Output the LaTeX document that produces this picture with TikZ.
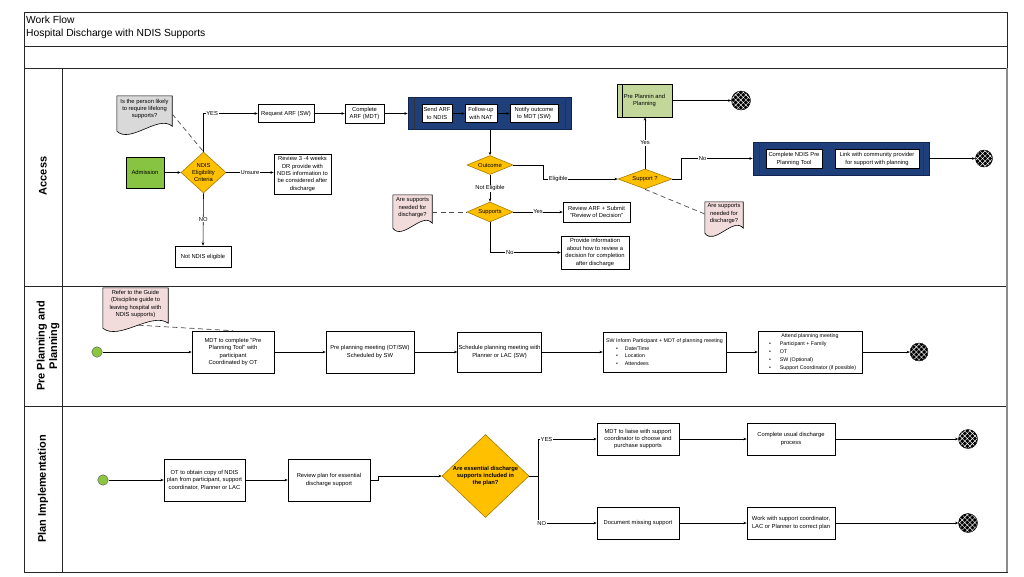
\documentclass[tikz,border=0pt]{standalone}
\usepackage{fontspec}
\setmainfont{Liberation Sans}
\usetikzlibrary{shapes.geometric,arrows.meta,calc,backgrounds,patterns.meta}
\definecolor{admgreen}{HTML}{86C441}
\definecolor{startgreen}{HTML}{8CC63F}
\definecolor{diafill}{HTML}{FFC000}
\definecolor{diadraw}{HTML}{A67C00}
\definecolor{contblue}{HTML}{1F3F7A}
\definecolor{contdraw}{HTML}{0F2550}
\definecolor{ppgreen}{HTML}{C4D79B}
\definecolor{docpink}{HTML}{F2DCDB}
\definecolor{docgray}{HTML}{D9D9D9}
\newcommand\nf{\fontsize{5.8}{7.4}\selectfont}
\newcommand\smnf{\fontsize{5.3}{7.5}\selectfont}
\newcommand\wavedoc[3]{%
  \path[draw=black, line width=0.6pt, fill=#2]
   (#1.north west) -- (#1.north east) -- ($(#1.south east)+(0,#3-3)$)
   .. controls ($(#1.south)!0.5!(#1.south east)+(0,#3-15)$) and ($(#1.south)!0.5!(#1.south west)+(0,#3+15)$) ..
   ($(#1.south west)+(0,#3+2)$) -- cycle;}
\begin{document}
\begin{tikzpicture}[x=1pt,y=-1pt,
  bx/.style 2 args={draw=black, line width=0.6pt, fill=white, rectangle, inner sep=1pt, align=center, font=\nf, minimum width=#1, minimum height=#2},
  dia/.style 2 args={diamond, draw=diadraw, fill=diafill, line width=0.6pt, inner sep=0pt, minimum width=#1, minimum height=#2},
  dtxt/.style={font=\nf, align=center, inner sep=0pt},
  doc/.style 2 args={rectangle, inner sep=0pt, align=center, font=\nf, minimum width=#1, minimum height=#2},
  cont/.style 2 args={draw=contdraw, fill=contblue, line width=0.8pt, inner sep=0pt, minimum width=#1, minimum height=#2},
  contline/.style={draw=black!80, line width=0.6pt},
  endc/.style={circle, draw=black, line width=0.4pt, inner sep=0pt, minimum size=#1, preaction={fill=black}, pattern={Hatch[angle=45,distance=3.6pt,line width=0.45pt]}, pattern color=white},
  startc/.style={circle, draw=black!60, fill=startgreen, line width=0.5pt, inner sep=0pt, minimum size=10.5},
  arr/.style={draw=black, line width=0.6pt, -{Stealth[length=3.2pt,width=2.6pt]}},
  dsh/.style={draw=black!70, line width=0.7pt, dash pattern=on 5pt off 3.5pt},
  lbl/.style={font=\nf, fill=white, inner sep=0.6pt},
  lane/.style={font=\fontsize{11}{12.5}\selectfont\bfseries, rotate=90, align=center},
  frame/.style={draw=black!85, line width=0.7pt}
]
\begin{scope}[on background layer]
  \fill[white] (0,0) rectangle (1024,576);
\end{scope}
\useasboundingbox (0,0) rectangle (1024,576);

% frame and lanes
\draw[frame] (24,12) rectangle (1007,572);
\draw[frame] (24,46) -- (1007,46);
\draw[frame] (24,68) -- (1007,68);
\draw[frame] (24,286) -- (1007,286);
\draw[frame] (24,406) -- (1007,406);
\draw[frame] (62,68) -- (62,572);
\draw[draw=black!45, line width=1.4pt] (1007,68) -- (1007,572);

\node[anchor=west, inner sep=0pt, font=\fontsize{10.3}{12}\selectfont] (t1) at (26,20) {Work Flow};
\node[anchor=west, inner sep=0pt, font=\fontsize{10.3}{12}\selectfont] (t2) at (26,33.5) {Hospital Discharge with NDIS Supports};

\node[lane] (L1) at (43,176) {Access};
\node[lane] (L2) at (48,346) {Pre Planning and\\Planning};
\node[lane] (L3) at (43,489) {Plan Implementation};

% ---------- Access lane ----------
\node[doc={55}{26}] (qdoc) at (144.5,109) {Is the person likely\\to require lifelong\\supports?};
\node[bx={38}{31}, fill=admgreen] (adm) at (145,172.5) {Admission};
\node[dia={45}{41}] (elig) at (203.5,172.5) {};
\node[dtxt] (eligT) at (elig) {NDIS\\Eligibility\\Criteria};
\node[bx={56}{18}] (reqarf) at (286,113.5) {Request ARF (SW)};
\node[bx={57}{40}] (review) at (302.5,174) {Review 3 -4 weeks\\DR provide with\\NDIS information to\\be considered after\\discharge};
\node[bx={56}{21}] (notel) at (203,256.5) {Not NDIS eligible};
\node[bx={39}{19}] (cmparf) at (364.5,113.5) {Complete\\ARF (MDT)};
\node[cont={163}{32}] (c1) at (489.5,113.5) {};
\draw[contline] ($(c1.north west)+(7,0)$) -- ($(c1.south west)+(7,0)$);
\draw[contline] ($(c1.north east)+(-6,0)$) -- ($(c1.south east)+(-6,0)$);
\node[bx={30}{18}] (send) at (437,113.5) {Send ARF\\to NDIS};
\node[bx={32}{18}] (follow) at (481,113.5) {Follow-up\\with NAT};
\node[bx={48}{18}] (notify) at (534,113.5) {Notify outcome\\to MDT (SW)};
\node[dia={46}{19}] (outc) at (490,165) {};
\node[dtxt] (outcT) at (outc) {Outcome};
\node[dia={46}{20}] (supp) at (490,212) {};
\node[dtxt] (suppT) at (supp) {Supports};
\node[doc={39}{26}] (ndoc1) at (412.5,208) {Are supports\\needed for\\discharge?};
\node[bx={67}{20}] (revarf) at (596.5,212) {Review ARF + Submit\\"Review of Decision"};
\node[bx={68}{33}] (provide) at (595,252.5) {Provide information\\about how to review a\\decision for completion\\after discharge};
\node[dia={54}{20}] (spq) at (645,179) {};
\node[dtxt] (spqT) at (spq) {Support ?};
\node[bx={55}{33}, fill=ppgreen] (ppb) at (644.5,100.5) {Pre Plannin and\\Planning};
\draw[draw=black, line width=0.6pt] ($(ppb.north west)+(6,0)$) -- ($(ppb.south west)+(6,0)$);
\node[endc=19] (e1) at (741,100.5) {};
\node[cont={176}{33}] (c2) at (841,158.5) {};
\draw[contline] ($(c2.north west)+(7,0)$) -- ($(c2.south west)+(7,0)$);
\draw[contline] ($(c2.north east)+(-6,0)$) -- ($(c2.south east)+(-6,0)$);
\node[bx={56}{19}] (cni) at (794,159) {Complete NDIS Pre\\Planning Tool};
\node[bx={84}{19}] (link) at (877,159) {Link with community provider\\for support with planning};
\node[endc=17] (e2) at (984,158.5) {};
\node[doc={38}{24}] (ndoc2) at (724,214) {Are supports\\needed for\\discharge?};

\draw[arr] (adm) -- (elig);
\draw[arr] (elig.north) |- node[lbl,pos=0.58]{YES} (reqarf.west);
\draw[arr] (elig.east) -- node[lbl]{Unsure} (elig.east -| review.west);
\draw[arr] (elig.south) -- node[lbl]{NO} (notel.north);
\draw[dsh] ($(qdoc.east)+(0,5)$) -- (elig.north);
\draw[arr] (reqarf) -- (cmparf);
\draw[arr] (cmparf) -- (c1);
\draw[arr] (send) -- (follow);
\draw[arr] (follow) -- (notify);
\draw[arr] (c1.south -| outc.north) -- (outc.north);
\draw[arr] (outc.east) -- ++(30,0) |- node[lbl,pos=0.6]{Eligible} (spq.west);
\draw[arr] (outc.south) -- node[lbl]{Not Eligible} (supp.north);
\draw[arr] (supp.east) -- node[lbl]{Yes} (revarf.west);
\draw[arr] (supp.south) |- node[lbl,pos=0.64]{No} (provide.west);
\draw[dsh] (ndoc1.east |- supp.west) -- (supp.west);
\draw[arr] (spq.north) -- node[lbl]{Yes} (spq.north |- ppb.south);
\draw[arr] (ppb.east) -- (e1.west);
\draw[arr] (spq.east) -- ++(9,0) |- node[lbl,pos=0.65]{No} (c2.west);
\draw[arr] (c2.east) -- (e2.west);
\draw[dsh] (spq.south) -- (ndoc2.west);

% ---------- Pre Planning lane ----------
\node[doc={65}{32}] (refdoc) at (135.5,304) {Refer to the Guide\\(Discipline guide to\\leaving hospital with\\NDIS supports)};
\node[startc] (s1) at (97,352) {};
\node[bx={82}{42}] (mdt) at (233,352) {MDT to complete "Pre\\Planning Tool" with\\participant\\Coordinated by OT};
\node[bx={88}{42}] (ppm) at (370,352) {Pre planning meeting (OT/SW)\\Scheduled by SW};
\node[bx={79}{40}] (sched) at (499.5,352) {Schedule planning meeting with\\Planner or LAC (SW)};
\node[bx={123}{40}, font=\smnf, align=left] (swinf) at (664.5,352) {SW Inform Participant + MDT of planning meeting\\
  \hspace*{10pt}\textbullet\hspace{7pt}Date/Time\\
  \hspace*{10pt}\textbullet\hspace{7pt}Location\\
  \hspace*{10pt}\textbullet\hspace{7pt}Attendees};
\node[bx={104}{42}, font=\smnf, align=left] (attend) at (810,352) {\makebox[98pt][c]{Attend planning meeting}\\[0.4pt]
  \hspace*{8pt}\textbullet\hspace{9pt}Participant + Family\\[0.4pt]
  \hspace*{8pt}\textbullet\hspace{9pt}OT\\[0.4pt]
  \hspace*{8pt}\textbullet\hspace{9pt}SW (Optional)\\[0.4pt]
  \hspace*{8pt}\textbullet\hspace{9pt}Support Coordinator (if possible)};
\node[endc=18] (e3) at (919,352) {};

\draw[arr] (s1) -- (mdt);
\draw[arr] (mdt) -- (ppm);
\draw[arr] (ppm) -- (sched);
\draw[arr] (sched) -- (swinf);
\draw[arr] (swinf) -- (attend);
\draw[arr] (attend) -- (e3);
\draw[dsh] ($(refdoc.south)+(3,5)$) -- (mdt.north);

% ---------- Plan Implementation lane ----------
\node[startc] (s2) at (103,480) {};
\node[bx={81}{42}] (ot) at (204.5,480) {OT to obtain copy of NDIS\\plan from participant, support\\coordinator, Planner or LAC};
\node[bx={82}{42}] (revplan) at (329,480) {Review plan for essential\\discharge support};
\node[dia={87}{83}] (bigd) at (485.5,476) {};
\node[dtxt, font={\nf\bfseries}] (bigdT) at (bigd) {Are essential discharge\\supports included in\\the plan?};
\node[bx={82}{32}] (mdt2) at (638,439) {MDT to liaise with support\\coordinator to choose and\\purchase supports};
\node[bx={88}{32}] (cudp) at (791,439) {Complete usual discharge\\process};
\node[endc=19] (e4) at (968,439) {};
\node[bx={82}{32}] (docm) at (638,523) {Document missing support};
\node[bx={88}{32}] (work) at (791,523) {Work with support coordinator,\\LAC or Planner to correct plan};
\node[endc=19] (e5) at (968,523) {};

\draw[arr] (s2) -- (ot);
\draw[arr] (ot) -- (revplan);
\draw[arr] (revplan.east) -- ++(8,0) |- (bigd.west);
\draw[arr] (bigd.east) -- ++(9,0) |- node[lbl,pos=0.57]{YES} (mdt2.west);
\draw[arr] (bigd.east) -- ++(9,0) |- node[lbl,pos=0.53]{NO} (docm.west);
\draw[arr] (mdt2) -- (cudp);
\draw[arr] (cudp) -- (e4);
\draw[arr] (docm) -- (work);
\draw[arr] (work) -- (e5);

% document shapes
\begin{scope}[on background layer]
  \wavedoc{qdoc}{docgray}{7}
  \wavedoc{ndoc1}{docpink}{5}
  \wavedoc{ndoc2}{docpink}{5}
  \wavedoc{refdoc}{docpink}{6}
\end{scope}
\end{tikzpicture}
\end{document}
